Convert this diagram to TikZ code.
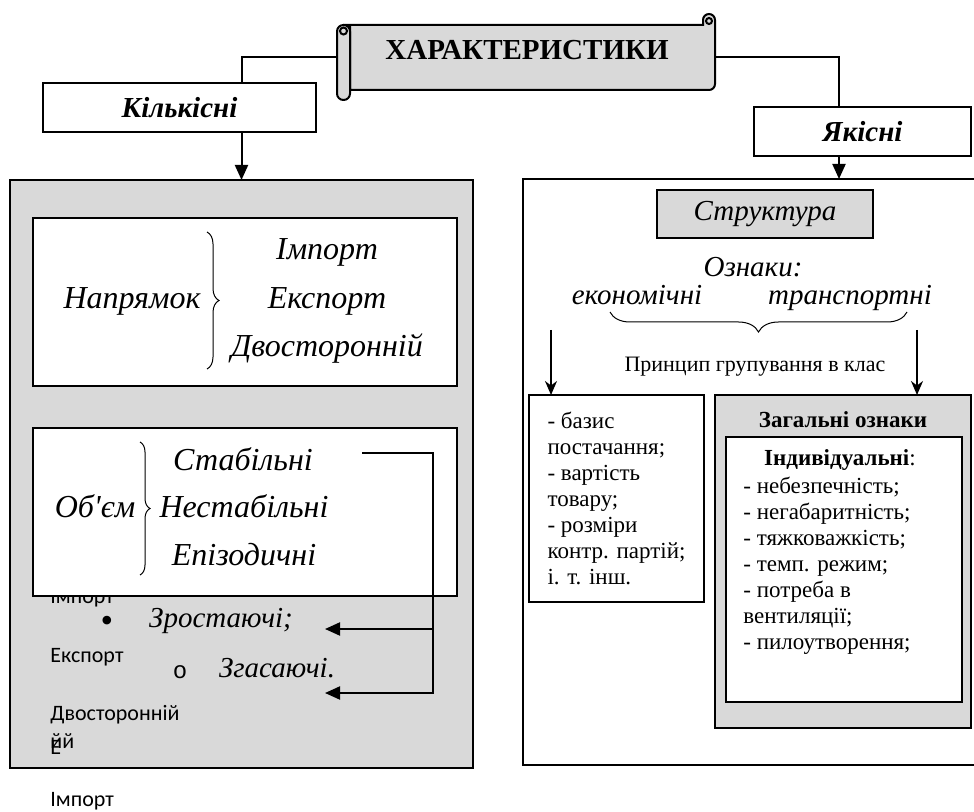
\documentclass[tikz,border=0pt]{standalone}
\usepackage{fontspec}
\setmainfont{Liberation Serif}[Ligatures=TeXOff]
\newfontfamily\calibrifont{Carlito}
\newfontfamily\courfont{Liberation Mono}
\usetikzlibrary{arrows.meta,decorations.pathreplacing}
\definecolor{panelgray}{RGB}{217,217,217}
\tikzset{
  panel/.style={rectangle, draw=black, line width=1pt, fill=#1, inner sep=0pt, outer sep=0pt},
  panel/.default={white},
  headbox/.style={panel, font=\fontsize{14.5}{17}\selectfont\bfseries\itshape},
  itbig/.style={font=\fontsize{16}{19}\selectfont\itshape, inner sep=0pt, anchor=base},
  itmid/.style={font=\fontsize{14.5}{17}\selectfont\itshape, inner sep=0pt, anchor=base},
  boxtext/.style={font=\fontsize{11.5}{13}\selectfont, inner sep=0pt},
  stray/.style={font=\calibrifont\fontsize{11}{13}\selectfont, inner sep=0pt, anchor=base west},
  conn/.style={line width=1pt},
  arr/.style={-{Triangle[length=7.5pt,width=6.5pt]}, line width=1pt},
  arrs/.style={-{Stealth[length=7pt,width=6pt]}, line width=1pt},
  brc/.style={decorate, decoration={brace, amplitude=#1}, line width=0.5pt},
}
\begin{document}
\begin{tikzpicture}[x=0.5pt, y=-0.5pt]
\useasboundingbox (0,0) rectangle (974,812);
\clip (0,0) rectangle (974,812);
% title scroll
\filldraw[fill=panelgray, line width=1pt] (343,25) -- (703,25) -- (703,20)
  arc[start angle=180, end angle=360, radius=6] -- (715,84)
  arc[start angle=0, end angle=90, radius=6] -- (350,90) -- (350,25) -- cycle;
\draw[line width=1pt] (709,21) circle[radius=3];
\filldraw[fill=panelgray, line width=1pt, rounded corners=3.2pt] (337,25) rectangle (350,100);
\draw[line width=1pt] (343.5,31) circle[radius=3.5];
\node[font=\fontsize{14.5}{17}\selectfont\bfseries, anchor=base] (title) at (527,60) {ХАРАКТЕРИСТИКИ};
\coordinate (scrL) at (337,57);
\coordinate (scrR) at (715,57);

% panels
\node[panel=panelgray, minimum width=231.5pt, minimum height=294pt] (lpanel) at (241.5,474) {};
\node[panel, minimum width=316pt, minimum height=293pt] (rpanel) at (839,472) {};
\node[headbox, fill=white, minimum width=136.5pt, minimum height=24.5pt] (kil) at (179.5,107.5) {Кількісні};
\node[headbox, fill=white, minimum width=108.5pt, minimum height=24.5pt] (jak) at (862.5,131.5) {Якісні};
\draw[conn] (scrL) -| (kil.north -| lpanel.north);
\draw[arr] (kil.south -| lpanel.north) -- (lpanel.north);
\draw[conn] (scrR) -| (jak.north -| rpanel.north);
\draw[arr] (jak.south -| rpanel.north) -- (rpanel.north);

% left: stray text
\node[stray] (imp1) at (50,603) {Імпорт};
\node[stray] (exp1) at (50,662) {Експорт};
\node[stray] (dvo1) at (50,720) {Двосторонній};
\node[stray] (yy1) at (50,748) {йй};
\node[stray] (ee1) at (50,754) {Е};
\node[stray] (imp2) at (50,806) {Імпорт};

% left: direction
\node[panel, minimum width=212pt, minimum height=84pt] (napbox) at (245,302) {};
\node[itbig] (nap) at (132,309) {Напрямок};
\draw[brc=6pt] (207,232) -- (207,369);
\node[itbig] (napimp) at (327,260) {Імпорт};
\node[itbig] (napexp) at (327,309) {Експорт};
\node[itbig] (napdvo) at (327,357) {Двосторонній};

% left: volume
\node[panel, minimum width=212pt, minimum height=84pt] (obbox) at (245,512) {};
\node[itbig] (ob) at (95,517) {Об'єм};
\draw[brc=5pt] (140,442) -- (140,575);
\node[itbig] (stab) at (243,470) {Стабільні};
\node[itbig] (nestab) at (244,517) {Нестабільні};
\node[itbig] (epiz) at (244,565) {Епізодичні};
\node[font=\fontsize{18}{18}\selectfont, inner sep=0pt, anchor=base, text height=6pt, text depth=0pt] (bul) at (107,632) {\textbullet};
\node[itmid] (zrost) at (221,627) {Зростаючі;};
\node[font=\courfont\fontsize{12}{14}\selectfont, inner sep=0pt, anchor=base] (circ) at (180,678) {o};
\node[itmid] (zgas) at (277,677) {Згасаючі.};
\coordinate (stabout) at (362,453);
\coordinate (stabturn) at (433,453);
\coordinate (zrostin) at (325,629);
\coordinate (zgasin) at (325,693);
\draw[arr] (stabout) -- (stabturn) |- (zgasin);
\draw[arr] (stabturn |- zrostin) -- (zrostin);

% right: structure
\node[panel=panelgray, font=\fontsize{14.5}{17}\selectfont\itshape, minimum width=108pt, minimum height=24pt] (strukt) at (765,214) {Структура};
\node[itmid] (oznaki) at (753,277) {Ознаки:};
\node[itmid] (ekon) at (637,305) {економічні};
\node[itmid] (transp) at (850,305) {транспортні};
\draw[decorate, decoration={brace, amplitude=10pt, mirror}, line width=0.5pt] (610,312) -- (907,312);
\node[font=\fontsize{11}{13}\selectfont] (princ) at (755,367) {Принцип групування в клас};
\coordinate (ekarr) at (551,330);
\coordinate (trarr) at (917,330);

\node[panel, boxtext, align=left, minimum width=87.5pt, minimum height=103.5pt] (lbox) at (616.5,498.5)
  {- базис\\постачання;\\- вартість\\товару;\\- розміри\\контр. партій;\\і. т. інш.};
\node[panel=panelgray, minimum width=128pt, minimum height=166.5pt] (zagbox) at (843,561.5) {};
\node[boxtext, font=\fontsize{11.5}{13}\selectfont\bfseries] (zagt) at (843,420) {Загальні ознаки};
\node[panel, minimum width=118pt, minimum height=132.5pt] (indbox) at (844,569.5) {};
\node[boxtext] (indt) at (840,460) {\textbf{Індивідуальні}:};
\node[boxtext, align=left, anchor=north west] (indlist) at (743,477)
  {- небезпечність;\\- негабаритність;\\- тяжковажкість;\\- темп. режим;\\- потреба в\\вентиляції;\\- пилоутворення;};
\draw[arrs] (ekarr) -- (ekarr |- lbox.north);
\draw[arrs] (trarr) -- (trarr |- zagbox.north);
\end{tikzpicture}
\end{document}
